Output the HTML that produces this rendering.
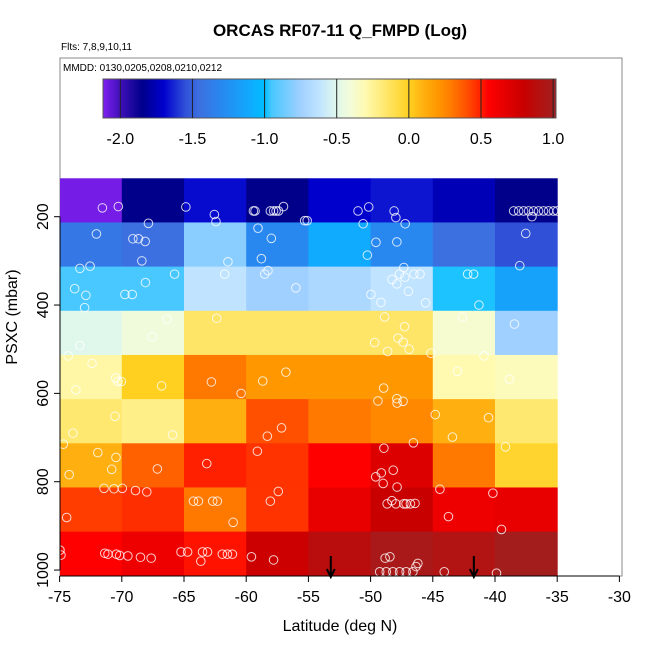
<!DOCTYPE html>
<html><head><meta charset="utf-8"><style>
body{margin:0;background:#fff;}
svg{display:block;font-family:"Liberation Sans",Arial,sans-serif;}
</style></head><body>
<svg id="chart" width="650" height="650" viewBox="0 0 650 650">
<defs><linearGradient id="cbgrad" x1="0" x2="1" y1="0" y2="0"></linearGradient>
<clipPath id="plotclip"><rect x="60" y="58" width="562" height="518"/></clipPath></defs>
<text x="340" y="36" text-anchor="middle" font-size="17" font-weight="bold">ORCAS RF07-11 Q_FMPD (Log)</text>
<text x="61" y="50" font-size="10">Flts: 7,8,9,10,11</text>
<rect x="60" y="58" width="562" height="518" fill="none" stroke="#888" stroke-width="1"/>
<text x="63" y="71" font-size="10">MMDD: 0130,0205,0208,0210,0212</text>
<g id="cells" clip-path="url(#plotclip)"></g>
<g id="points"></g>
<g id="arrows"></g>
<g id="colorbar"></g>
<g id="axes"></g>
<text x="340" y="631" text-anchor="middle" font-size="16">Latitude (deg N)</text>
<text transform="translate(17,317) rotate(-90)" text-anchor="middle" font-size="16">PSXC (mbar)</text>
</svg>
<script>
const latEdges = [-75,-70,-65,-60,-55,-50,-45,-40,-35];
const presEdges = [113,213,313,413,513,613,713,813,913,1014];
const cellValues = [
 [-2.1,-1.85,-1.68,-1.85,-1.7,-1.66,-1.75,-1.85],
 [-1.4,-1.45,-0.8,-1.3,-1.1,-1.3,-1.45,-1.55],
 [-0.95,-0.95,-0.62,-0.75,-0.7,-0.62,-0.98,-1.15],
 [-0.5,-0.42,-0.15,-0.15,-0.15,-0.15,-0.38,-0.75],
 [-0.28,0.0,0.3,0.2,0.2,0.2,-0.3,-0.33],
 [-0.17,-0.22,0.1,0.4,0.3,0.25,0.1,-0.17],
 [0.1,0.36,0.5,0.46,0.55,0.7,0.3,-0.03],
 [0.44,0.47,0.3,0.46,0.65,0.8,0.62,0.65],
 [0.55,0.62,0.52,0.78,0.88,0.97,0.92,1.0]
];
const pointLat = [-71.56,-70.28,-64.85,-62.56,-62.43,-67.86,-72.04,-69.11,-68.66,-68.12,-68.39,-73.37,-72.55,-73.79,-72.89,-72.99,-68.1,-69.75,-69.16,-65.76,-61.47,-61.73,-59.05,-57.98,-58.78,-58.25,-58.51,-56.01,-55.3,-59.42,-59.29,-58.06,-57.8,-57.6,-57.4,-57.0,
 -66.37,-67.56,-73.37,-62.37,-74.3,-72.39,-73.69,-70.5,-70.3,-70.04,-66.8,-62.8,-60.41,-58.67,-56.81,-70.55,-73.93,-65.92,-74.7,-57.16,-58.3,-71.93,-70.47,-70.81,-74.23,-67.14,-63.17,-59.1,
 -71.43,-70.63,-69.96,-68.9,-67.99,-57.42,-58.06,-64.24,-63.84,-62.69,-62.32,-61.05,-74.43,
 -74.97,-74.89,-71.37,-71.11,-70.44,-70.17,-69.51,-68.5,-67.64,-65.24,-64.71,-63.51,-63.11,-61.92,-61.51,-61.11,-63.65,-59.58,-57.8,
 -51.01,-50.15,-48.11,-47.97,-50.6,-47.22,-55.1,-49.57,-47.89,-50.26,-37.53,-38.01,
 -47.33,-47.68,-47.25,-46.51,-46.03,-48.27,-47.89,-46.96,-49.97,-49.17,-45.58,-42.2,-41.72,-41.29,
 -48.87,-47.27,-47.8,-47.38,-46.9,-49.67,-48.63,-45.15,-42.62,-40.89,-38.44,-43.02,-38.84,
 -48.95,-49.41,-47.89,-47.39,-47.87,-44.8,-40.52,-43.42,-39.16,-46.56,-48.93,
 -48.18,-49.14,-49.59,-48.99,-47.87,-48.67,-48.29,-47.97,-47.33,-47.15,-46.8,-46.43,-44.43,-43.74,-40.17,-39.48,
 -48.83,-48.45,-46.2,-46.35,-49.27,-48.74,-48.21,-47.67,-47.14,-46.6,-44.08,-39.88,
 -38.5,-38.1,-37.7,-37.3,-36.9,-36.5,-36.1,-35.7,-35.3,-35.0,-37.03];
const pointPres = [180,177,178,195,211,215,239,250,250,256,300,317,312,363,378,406,349,376,376,330,302,330,226,249,295,322,330,361,209,187,187,187,187,187,187,177,
 432,472,492,430,515,532,592,565,573,573,583,574,600,572,552,652,690,694,715,678,697,734,745,772,784,771,759,731,
 815,816,815,820,823,822,844,844,844,844,844,892,881,
 955,966,962,964,964,967,968,971,973,959,959,959,959,964,964,964,980,970,977,
 187,178,187,202,216,216,209,258,257,287,238,311,
 315,330,337,330,330,342,352,369,376,394,395,330,330,400,
 427,449,475,484,500,485,505,509,427,515,443,550,568,
 588,617,612,618,622,648,655,699,721,712,724,
 774,780,789,804,812,850,843,850,850,850,850,849,817,879,826,908,
 973,970,985,992,1004,1004,1004,1004,1004,1004,1004,1007,
 187,187,187,187,187,187,187,187,187,187,200];
const arrowLat = [-53.2,-41.7];
const xTicks = [-75,-70,-65,-60,-55,-50,-45,-40,-35,-30];
const yTicks = [200,400,600,800,1000];
const cbTicks = [-2.0,-1.5,-1.0,-0.5,0.0,0.5,1.0];
const cbStops = [[-2.12,'#8020f0'],[-2.0,'#4010b8'],[-1.85,'#00008b'],[-1.7,'#0000cd'],[-1.55,'#3050d8'],[-1.45,'#3c70e0'],[-1.3,'#2888f0'],[-1.1,'#10aaff'],[-1.0,'#00bfff'],[-0.95,'#48c8ff'],[-0.75,'#a0d0ff'],[-0.62,'#c0e4ff'],[-0.5,'#e0f8ec'],[-0.4,'#f4fcd8'],[-0.3,'#fffab0'],[-0.17,'#ffe870'],[0,'#ffd020'],[0.1,'#ffb010'],[0.2,'#ff9800'],[0.3,'#ff7800'],[0.4,'#ff5000'],[0.5,'#ff2000'],[0.55,'#ff0000'],[0.7,'#dd0000'],[0.8,'#c80000'],[0.9,'#b51010'],[1.02,'#a02020']];

const NS='http://www.w3.org/2000/svg';
const xS = lat => 59.6 + (lat + 75) * 12.44;
const yS = p => 216.7 + (p - 200) * 0.4417;
const cbMin = -2.12, cbMax = 1.02, cbX0 = 103, cbX1 = 556;
const cbS = v => cbX0 + (v - cbMin) / (cbMax - cbMin) * (cbX1 - cbX0);
function hex(c){return [1,3,5].map(i=>parseInt(c.substr(i,2),16));}
function colorOf(v){
  if(v<=cbStops[0][0]) return cbStops[0][1];
  for(let i=1;i<cbStops.length;i++){
    if(v<=cbStops[i][0]){
      const a=cbStops[i-1],b=cbStops[i],t=(v-a[0])/(b[0]-a[0]);
      const ca=hex(a[1]),cb=hex(b[1]);
      return 'rgb('+ca.map((x,k)=>Math.round(x+(cb[k]-x)*t)).join(',')+')';
    }
  }
  return cbStops[cbStops.length-1][1];
}
function mk(tag,attrs,parent){const e=document.createElementNS(NS,tag);for(const k in attrs)e.setAttribute(k,attrs[k]);parent.appendChild(e);return e;}

const cells=document.getElementById('cells');
for(let r=0;r<cellValues.length;r++){
  for(let c=0;c<cellValues[r].length;c++){
    const x0=xS(latEdges[c]),x1=xS(latEdges[c+1]),y0=yS(presEdges[r]),y1=yS(presEdges[r+1]);
    const e=mk('rect',{x:x0,y:y0,width:x1-x0+0.5,height:y1-y0+0.5,fill:colorOf(cellValues[r][c])},cells);
    
    
  }
}
const pts=document.getElementById('points');
for(let i=0;i<pointLat.length;i++){
  const e=mk('circle',{cx:xS(pointLat[i]),cy:yS(pointPres[i]),r:4.3,fill:'none',stroke:'#fff','stroke-opacity':0.8,'stroke-width':1},pts);
  
  
}
const arr=document.getElementById('arrows');
for(const a of arrowLat){
  const x=xS(a);
  const e=mk('path',{d:`M${x},556 L${x},577 M${x-4},569 L${x},577 L${x+4},569`,stroke:'#000','stroke-width':2,fill:'none'},arr);
  
  
}
const grad=document.getElementById('cbgrad');
for(const s of cbStops){mk('stop',{offset:((s[0]-cbMin)/(cbMax-cbMin)*100)+'%','stop-color':s[1]},grad);}
const cb=document.getElementById('colorbar');
const cbr=mk('rect',{x:cbX0,y:79,width:cbX1-cbX0,height:39,fill:'url(#cbgrad)',stroke:'#555','stroke-width':1},cb);


for(const t of cbTicks){
  const x=cbS(t);
  const l=mk('line',{x1:x,x2:x,y1:79,y2:118,stroke:'#222','stroke-width':1},cb);
  
  
  const tx=mk('text',{x:x,y:144,'text-anchor':'middle','font-size':16},cb);
  tx.textContent=t.toFixed(1);
  
  
}
const ax=document.getElementById('axes');
const xl=mk('line',{x1:xS(-75),x2:xS(-30),y1:576,y2:576,stroke:'#000'},ax);


for(const t of xTicks){
  const x=xS(t);
  const l=mk('line',{x1:x,x2:x,y1:576,y2:582,stroke:'#000'},ax);
  
  
  const tx=mk('text',{x:x,y:602,'text-anchor':'middle','font-size':16},ax);
  tx.textContent=t;
  
  
}
const yl=mk('line',{x1:60,x2:60,y1:yS(200),y2:yS(1000),stroke:'#000'},ax);


for(const t of yTicks){
  const y=yS(t);
  const l=mk('line',{x1:54,x2:60,y1:y,y2:y,stroke:'#000'},ax);
  
  
  const tx=mk('text',{transform:`translate(48,${y}) rotate(-90)`,'text-anchor':'middle','font-size':16},ax);
  tx.textContent=t;
  
  
}
</script>
</body></html>
